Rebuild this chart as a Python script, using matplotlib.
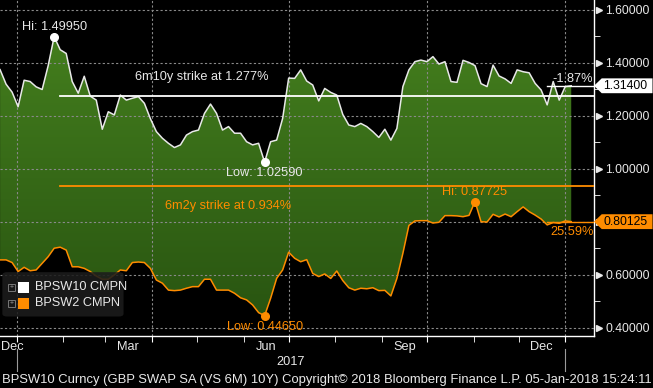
import numpy as np
import pandas as pd
import matplotlib
matplotlib.use('Agg')
import matplotlib.pyplot as plt
import matplotlib.dates as mdates
from matplotlib.colors import LinearSegmentedColormap
from matplotlib.path import Path
from matplotlib.patches import Polygon, FancyBboxPatch, Rectangle
from matplotlib.lines import Line2D
from matplotlib.ticker import MultipleLocator, NullFormatter, FuncFormatter
from matplotlib.transforms import blended_transform_factory

# ---- data ----
dates = pd.date_range('2016-12-21', periods=96, freq='4D')

bpsw10 = [1.375, 1.320, 1.290, 1.235, 1.335, 1.330, 1.310, 1.300, 1.390, 1.4995,
          1.450, 1.436, 1.330, 1.286, 1.350, 1.275, 1.260, 1.150, 1.216, 1.204,
          1.279, 1.260, 1.267, 1.273, 1.248, 1.190, 1.141, 1.116, 1.097, 1.081,
          1.091, 1.128, 1.141, 1.147, 1.210, 1.245, 1.210, 1.147, 1.160, 1.135,
          1.135, 1.103, 1.091, 1.097, 1.0259, 1.103, 1.109, 1.191, 1.343, 1.342,
          1.374, 1.332, 1.317, 1.257, 1.304, 1.289, 1.279, 1.206, 1.166, 1.160,
          1.172, 1.160, 1.141, 1.119, 1.150, 1.109, 1.153, 1.311, 1.374, 1.405,
          1.411, 1.405, 1.424, 1.396, 1.405, 1.330, 1.327, 1.410, 1.402, 1.390,
          1.322, 1.311, 1.392, 1.351, 1.340, 1.323, 1.374, 1.367, 1.363, 1.323,
          1.298, 1.242, 1.330, 1.260, 1.311, 1.314]

bpsw2 = [0.657, 0.657, 0.647, 0.613, 0.629, 0.616, 0.619, 0.644, 0.669, 0.701,
         0.705, 0.694, 0.631, 0.631, 0.625, 0.613, 0.596, 0.584, 0.584, 0.600,
         0.619, 0.616, 0.647, 0.649, 0.647, 0.625, 0.581, 0.569, 0.543, 0.541,
         0.543, 0.550, 0.556, 0.556, 0.584, 0.584, 0.543, 0.543, 0.543, 0.531,
         0.514, 0.506, 0.487, 0.458, 0.4465, 0.512, 0.587, 0.619, 0.686, 0.663,
         0.650, 0.658, 0.606, 0.594, 0.604, 0.587, 0.615, 0.579, 0.552, 0.543,
         0.550, 0.548, 0.552, 0.541, 0.542, 0.521, 0.587, 0.682, 0.787, 0.804,
         0.805, 0.805, 0.796, 0.799, 0.824, 0.824, 0.823, 0.820, 0.825, 0.87725,
         0.801, 0.800, 0.829, 0.819, 0.830, 0.820, 0.839, 0.857, 0.839, 0.826,
         0.811, 0.789, 0.798, 0.795, 0.804, 0.80125]

strike10 = 1.277
strike2 = 0.934
chg10 = '-1.87%'
chg2 = '25.59%'
names = ['BPSW10 CMPN', 'BPSW2 CMPN']
yticks = [0.4, 0.6, 0.8, 1.0, 1.2, 1.4, 1.6]
month_labels = ['Dec', 'Mar', 'Jun', 'Sep', 'Dec']
month_label_dates = ['2016-12-29', '2017-03-16', '2017-06-16', '2017-09-16', '2017-12-16']
year_breaks = ['2017-01-01', '2018-01-01']
footer = ('BPSW10 Curncy (GBP SWAP SA (VS 6M) 10Y) Copyright\u00a9 2018 '
          'Bloomberg Finance L.P. 05-Jan-2018 15:24:11')

WHITE = '#e8e8e8'
ORANGE = '#ff8c00'
FS = 9.2
TFS = 8.8
plt.rcParams['font.family'] = ['Liberation Sans', 'DejaVu Sans']

# ---- figure ----
fig = plt.figure(figsize=(6.53, 3.88), dpi=100, facecolor='black')
ax = fig.add_axes([0, 52 / 388, 594 / 653, 336 / 388])
ax.set_facecolor('black')

xd = mdates.date2num(dates)
y10 = np.array(bpsw10)
y2 = np.array(bpsw2)
x0 = xd[0] - 0.05
x1 = x0 + 395.2
ylo, yhi = 0.3698, 1.6377

# green gradient between the two curves
poly = ax.fill_between(xd, y2, y10, facecolor='none', edgecolor='none')
grad = np.linspace(0, 1, 256).reshape(-1, 1)
cmap = LinearSegmentedColormap.from_list('bbg', ['#275210', '#47831f'])
im = ax.imshow(grad, extent=[x0, x1, ylo, yhi], origin='lower', aspect='auto',
               cmap=cmap, zorder=0.6)
im.set_clip_path(Path.make_compound_path(*poly.get_paths()), ax.transData)

ax.plot(xd, y10, color=WHITE, lw=1.1, zorder=3)
ax.plot(xd, y2, color=ORANGE, lw=1.1, zorder=3)

ax.set_xlim(x0, x1)
ax.set_ylim(ylo, yhi)

# axes / grid
for s in ['left', 'top']:
    ax.spines[s].set_visible(False)
for s in ['right', 'bottom']:
    ax.spines[s].set_color('white')
    ax.spines[s].set_linewidth(1.0)

ax.set_axisbelow('line')
ax.yaxis.tick_right()
ax.set_yticks(yticks)
# labels hidden behind the last-value boxes are left blank
ax.yaxis.set_major_formatter(FuncFormatter(
    lambda v, p: '' if min(abs(v - y10[-1]), abs(v - y2[-1])) < 0.03 else f'{v:.5f}'))
ax.yaxis.set_minor_locator(MultipleLocator(0.1))
ax.tick_params(axis='y', which='major', length=0, pad=8, labelcolor=WHITE, labelsize=TFS)
ax.tick_params(axis='y', which='minor', length=4, color='white', direction='out')
ax.grid(axis='y', which='major', color='#8a8a8a', ls=(0, (2, 2)), lw=0.8)

ax.xaxis.set_major_locator(mdates.MonthLocator(bymonth=[1, 4, 7, 10]))
ax.xaxis.set_minor_locator(mdates.MonthLocator())
ax.xaxis.set_major_formatter(NullFormatter())
ax.tick_params(axis='x', which='both', length=4, color='white', direction='out')
ax.grid(axis='x', which='major', color='#8a8a8a', ls=(0, (2, 2)), lw=0.8)

tri_tr = blended_transform_factory(ax.transAxes, ax.transData)
ax.plot([1.0085] * len(yticks), yticks, marker='>', ls='none', ms=4.5,
        color=WHITE, transform=tri_tr, clip_on=False)

# strike lines and labels
ax.axhline(strike10, xmin=60 / 594, xmax=1, color='white', lw=1.3, zorder=4)
ax.axhline(strike2, xmin=60 / 594, xmax=1, color=ORANGE, lw=1.3, zorder=4)
ax.text(0.340, 0.771, f'6m10y strike at {strike10:.3f}%', color=WHITE, fontsize=FS,
        ha='center', va='center', transform=ax.transAxes)
ax.text(0.384, 0.387, f'6m2y strike at {strike2:.3f}%', color=ORANGE, fontsize=FS,
        ha='center', va='center', transform=ax.transAxes)

# hi / low markers
for y, col, tcol in [(y10, 'white', WHITE), (y2, ORANGE, ORANGE)]:
    ih, il = np.argmax(y), np.argmin(y)
    ax.plot([xd[ih], xd[il]], [y[ih], y[il]], 'o', color=col, ms=5.5, zorder=5)
    ax.annotate(f'Hi: {y[ih]:.5f}', (xd[ih], y[ih]), xytext=(0, 10),
                textcoords='offset pixels', ha='center', va='center',
                color=tcol, fontsize=FS)
    ax.annotate(f'Low: {y[il]:.5f}', (xd[il], y[il]), xytext=(0, -11),
                textcoords='offset pixels', ha='center', va='center',
                color=tcol, fontsize=FS)

# last values
ax.axhline(y10[-1], xmin=547 / 594, xmax=1, color='white', lw=1.0, zorder=4)
ax.axhline(y2[-1], xmin=547 / 594, xmax=1, color=ORANGE, lw=1.0, zorder=4)
ax.text(0.998, 0.764, chg10, color=WHITE, fontsize=FS, ha='right', va='center',
        transform=ax.transAxes)
ax.text(1.0, 0.311, chg2, color=ORANGE, fontsize=FS, ha='right', va='center',
        transform=ax.transAxes)

for v, col in [(y10[-1], 'white'), (y2[-1], ORANGE)]:
    h = 0.028
    pts = [(1.0, v), (1.013, v + h), (1.0985, v + h), (1.0985, v - h), (1.013, v - h)]
    ax.add_patch(Polygon(pts, closed=True, fc=col, ec='none', transform=tri_tr,
                         clip_on=False, zorder=10))
    ax.text(1.016, v, f'{v:.5f}', color='black', fontsize=TFS, ha='left', va='center',
            transform=tri_tr, zorder=11, clip_on=False)

# legend box
ax.add_patch(FancyBboxPatch((0.004, 0.058), 0.204, 0.132, boxstyle='round,pad=0,rounding_size=0.008',
                            fc='#1c1c1c', ec='none', alpha=0.88, transform=ax.transAxes, zorder=6))
for k, (name, col) in enumerate(zip(names, ['white', ORANGE])):
    yc = 0.145 - k * 0.048
    ax.add_patch(Rectangle((0.0135, yc - 0.011), 0.012, 0.022, fc='none', ec='#777777',
                           lw=0.7, transform=ax.transAxes, zorder=7))
    ax.text(0.0195, yc, '+', color='#999999', fontsize=5, ha='center', va='center',
            transform=ax.transAxes, zorder=8)
    ax.add_patch(Rectangle((0.0305, yc - 0.017), 0.019, 0.034, fc=col, ec='none',
                           transform=ax.transAxes, zorder=7))
    ax.text(0.059, yc, name, color=WHITE, fontsize=FS, ha='left', va='center',
            transform=ax.transAxes, zorder=8)

# x labels
lab_tr = blended_transform_factory(ax.transData, fig.transFigure)
for lab, d in zip(month_labels, month_label_dates):
    fig.text(mdates.date2num(pd.Timestamp(d)), 1 - 347 / 388, lab, color=WHITE,
             fontsize=FS, ha='center', va='center', transform=lab_tr)
fig.text(mdates.date2num(pd.Timestamp('2017-07-02')), 1 - 362 / 388, '2017', color=WHITE,
         fontsize=FS, ha='center', va='center', transform=lab_tr)
for d in year_breaks:
    xb = mdates.date2num(pd.Timestamp(d))
    fig.add_artist(Line2D([xb, xb], [1 - 349 / 388, 1 - 371 / 388], color='#9a9a9a',
                          lw=0.8, transform=lab_tr))

fig.text(2 / 653, 1 - 380 / 388, footer, color=WHITE, fontsize=9.4, ha='left', va='center')

fig.savefig('out.png', dpi=100, facecolor='black')
